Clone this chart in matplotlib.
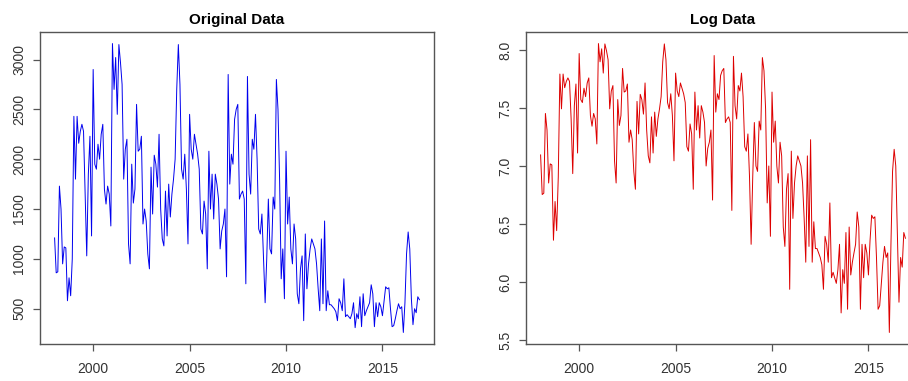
import numpy as np
import matplotlib
matplotlib.use("Agg")
import matplotlib.pyplot as plt

# Monthly values, Jan 1998 - Dec 2016
y1998 = [1210, 860, 870, 1730, 1500, 950, 1120, 1110, 580, 810, 630, 1000]
y1999 = [2430, 1800, 2430, 2160, 2280, 2350, 2280, 1650, 1030, 1850, 2230, 1230]
y2000 = [2900, 1950, 1900, 2150, 2000, 2250, 2350, 1700, 1550, 1730, 1650, 1330]
y2001 = [3160, 2700, 3020, 2450, 3150, 2970, 2750, 1800, 2100, 2200, 1150, 950]
y2002 = [1950, 1560, 1700, 2550, 2080, 2100, 2230, 1350, 1500, 1380, 1050, 900]
y2003 = [1920, 1450, 2040, 1950, 1720, 2250, 1500, 1200, 1130, 1680, 1230, 1750]
y2004 = [1420, 1650, 1800, 2000, 2700, 3150, 2750, 1900, 1800, 2050, 1700, 1150]
y2005 = [2450, 2100, 2000, 2250, 2150, 2050, 1900, 1300, 1250, 1580, 1450, 900]
y2006 = [2080, 1500, 1850, 1400, 1850, 1750, 1600, 1100, 1280, 1350, 1500, 820]
y2007 = [2850, 1750, 2050, 1950, 2400, 2500, 2550, 1600, 1650, 1680, 1600, 750]
y2008 = [2830, 1850, 1650, 2200, 2100, 2450, 2000, 1300, 1250, 1450, 1000, 560]
y2009 = [1000, 1600, 1100, 1050, 1620, 1500, 2800, 2500, 1800, 800, 1100, 600]
y2010 = [2080, 1350, 1620, 1100, 950, 1350, 1200, 650, 550, 900, 1030, 380]
y2011 = [1250, 700, 950, 1100, 1200, 1150, 1100, 950, 700, 480, 1200, 550]
y2012 = [1380, 480, 680, 540, 540, 520, 500, 470, 380, 600, 560, 480]
y2013 = [800, 420, 440, 420, 400, 450, 560, 310, 450, 400, 620, 320]
y2014 = [650, 430, 480, 520, 560, 740, 650, 320, 560, 420, 560, 520]
y2015 = [430, 580, 720, 700, 710, 500, 320, 330, 400, 480, 550, 500]
y2016 = [520, 262, 560, 1050, 1270, 1100, 600, 340, 500, 460, 620, 590]

start_year = 1998
x_ticks = [2000, 2005, 2010, 2015]
left_yticks = [500, 1000, 1500, 2000, 2500, 3000]
right_yticks = [5.5, 6.0, 6.5, 7.0, 7.5, 8.0]
titles = ["Original Data", "Log Data"]

values = np.array(y1998 + y1999 + y2000 + y2001 + y2002 + y2003 + y2004 + y2005 +
                  y2006 + y2007 + y2008 + y2009 + y2010 + y2011 + y2012 + y2013 +
                  y2014 + y2015 + y2016, dtype=float)
t = start_year + np.arange(len(values)) / 12.0
logv = np.log(values)

plt.rcParams['font.family'] = ['Liberation Sans', 'DejaVu Sans']

W, H = 908, 381
fig = plt.figure(figsize=(W / 100, H / 100), dpi=100)
fig.patch.set_facecolor('white')

axL = fig.add_axes([40 / W, 37 / H, 394 / W, 312 / H])
axR = fig.add_axes([526 / W, 37 / H, 394 / W, 312 / H])

def style(ax, yt, fmt):
    ax.margins(x=0.04, y=0.04)
    ax.set_xticks(x_ticks)
    ax.set_xticklabels([str(v) for v in x_ticks])
    ax.set_yticks(yt)
    ax.set_yticklabels([fmt(v) for v in yt])
    for s in ax.spines.values():
        s.set_color('#555555')
        s.set_linewidth(1.0)
    ax.tick_params(axis='both', length=5, width=0.9, color='#555555',
                   labelsize=10, labelcolor='#333333')
    ax.tick_params(axis='x', pad=8)
    ax.tick_params(axis='y', pad=5)
    for lab in ax.get_yticklabels():
        lab.set_rotation(90)
        lab.set_va('center')

axL.plot(t, values, color='#0000ee', lw=0.7)
style(axL, left_yticks, lambda v: f"{v:d}")
axL.set_title(titles[0], fontsize=11, fontweight='bold', pad=6)

axR.plot(t, logv, color='#dd0000', lw=0.7)
style(axR, right_yticks, lambda v: f"{v:.1f}")
axR.set_title(titles[1], fontsize=11, fontweight='bold', pad=6)

fig.savefig("out.png", dpi=100)
